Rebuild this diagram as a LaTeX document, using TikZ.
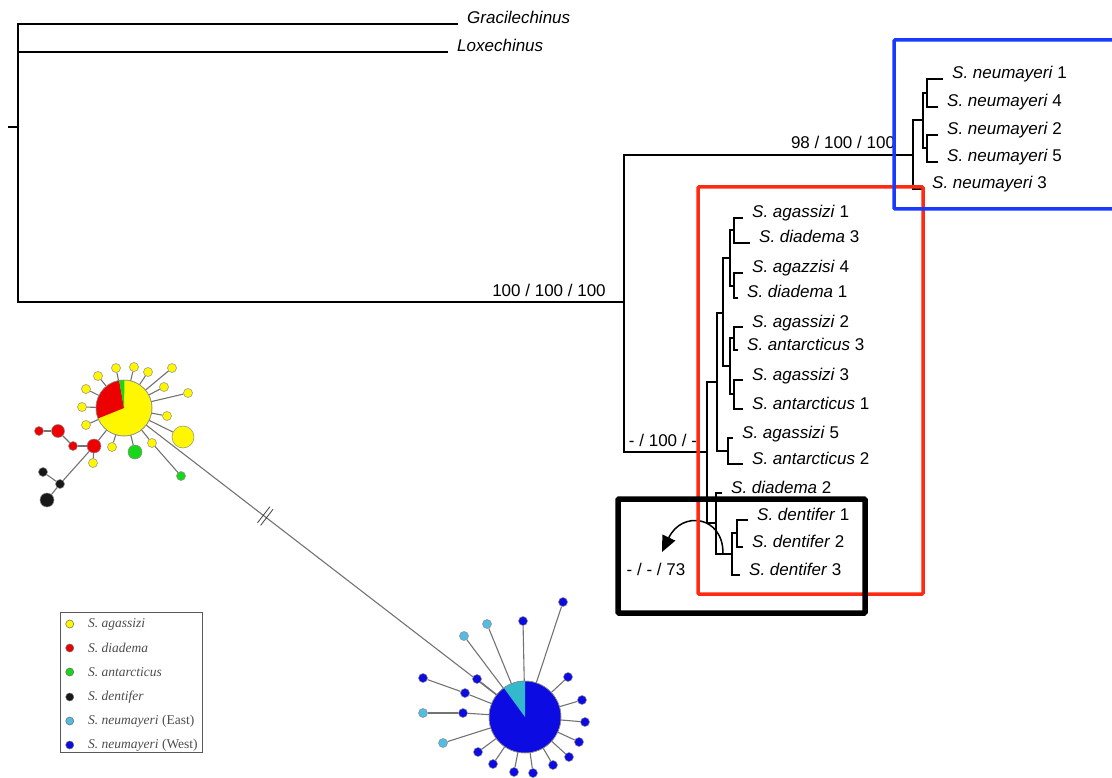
\documentclass[tikz,border=0pt]{standalone}
\usepackage{fontspec}
\setmainfont{Liberation Sans}
\newfontfamily\legendfont{Liberation Serif}
\usetikzlibrary{positioning,arrows.meta}

\definecolor{hapyellow}{RGB}{255,247,0}
\definecolor{hapred}{RGB}{236,0,0}
\definecolor{hapgreen}{RGB}{24,214,24}
\definecolor{hapblack}{RGB}{24,24,24}
\definecolor{hapcyan}{RGB}{84,188,226}
\definecolor{hapblue}{RGB}{12,12,226}
\definecolor{hapteal}{RGB}{52,184,204}
\definecolor{boxred}{RGB}{255,42,18}
\definecolor{boxblue}{RGB}{24,58,255}

\tikzstyle{tree_line} = [line width=1.6pt, black]
\tikzstyle{leaf_name} = [anchor=base west, inner xsep=9pt, inner ysep=1pt]
\tikzstyle{support} = [inner sep=1pt]
\tikzstyle{clade_box} = [line width=3.5pt, rounded corners=1pt]
\tikzstyle{swap_arrow} = [line width=1.5pt, -{Triangle[length=16pt,width=14pt]}]
\tikzstyle{net_edge} = [line width=1.1pt, black!55]
\tikzstyle{hap_hub} = [circle, draw=black!45, line width=0.5pt, inner sep=0pt]
\tikzstyle{hap_small} = [hap_hub, minimum size=9pt]
\tikzstyle{hap_mid} = [hap_hub, minimum size=14pt]
\tikzstyle{legend_text} = [anchor=west, inner sep=0pt, text=black!70, font=\legendfont\fontsize{13.5}{15}\selectfont]
\tikzstyle{legend_dot} = [circle, draw=black!60, line width=0.5pt, inner sep=0pt, minimum size=8pt]

\begin{document}
\begin{tikzpicture}[x=1pt, y=-1pt, font=\fontsize{17}{20}\selectfont]
        \useasboundingbox (0,0) rectangle (1112,778);

        \coordinate (root_stub) at (8,127);
        \coordinate (root) at (18,127);
        \coordinate (ingroup) at (624,302);
        \node (gracil) [leaf_name] at (458,24) {\textit{Gracilechinus}};
        \node (loxech) [leaf_name] at (448,52) {\textit{Loxechinus}};
        \draw [tree_line] (root_stub) -- (root);
        \draw [tree_line] (root) |- (gracil.base west);
        \draw [tree_line] (root) |- (loxech.base west);
        \draw [tree_line] (root) |- (ingroup);

        \coordinate (neu_root) at (913,155);
        \coordinate (red_root) at (707,452);
        \draw [tree_line] (ingroup) |- (neu_root);
        \draw [tree_line] (ingroup) |- (red_root);

        \coordinate (neu_a) at (923,120);
        \coordinate (neu_14) at (927,93);
        \coordinate (neu_25) at (927,148);
        \node (neu1) [leaf_name] at (943,79) {\textit{S. neumayeri} 1};
        \node (neu4) [leaf_name] at (938,107) {\textit{S. neumayeri} 4};
        \node (neu2) [leaf_name] at (938,135) {\textit{S. neumayeri} 2};
        \node (neu5) [leaf_name] at (938,162) {\textit{S. neumayeri} 5};
        \node (neu3) [leaf_name] at (923,189) {\textit{S. neumayeri} 3};
        \draw [tree_line] (neu_root) |- (neu_a);
        \draw [tree_line] (neu_root) |- (neu3.base west);
        \draw [tree_line] (neu_a) |- (neu_14);
        \draw [tree_line] (neu_a) |- (neu_25);
        \draw [tree_line] (neu_14) |- (neu1.base west);
        \draw [tree_line] (neu_14) |- (neu4.base west);
        \draw [tree_line] (neu_25) |- (neu2.base west);
        \draw [tree_line] (neu_25) |- (neu5.base west);

        \coordinate (red_a) at (717,382);
        \coordinate (red_d) at (716,523);
        \coordinate (red_b) at (723,313);
        \coordinate (red_c1) at (730,258);
        \coordinate (red_c2) at (730,366);
        \coordinate (red_11) at (734,230);
        \coordinate (red_12) at (734,286);
        \coordinate (red_21) at (734,338);
        \coordinate (red_22) at (734,394);
        \coordinate (red_ag5) at (728,451);
        \coordinate (den_root) at (732,554);
        \coordinate (den_12) at (737,533);
        \node (aga1) [leaf_name] at (743,218) {\textit{S. agassizi} 1};
        \node (dia3) [leaf_name] at (750,243) {\textit{S. diadema} 3};
        \node (aga4) [leaf_name] at (743,273) {\textit{S. agazzisi} 4};
        \node (dia1) [leaf_name] at (738,298) {\textit{S. diadema} 1};
        \node (aga2) [leaf_name] at (743,327) {\textit{S. agassizi} 2};
        \node (ant3) [leaf_name] at (738,350) {\textit{S. antarcticus} 3};
        \node (aga3) [leaf_name] at (743,380) {\textit{S. agassizi} 3};
        \node (ant1) [leaf_name] at (743,409) {\textit{S. antarcticus} 1};
        \node (aga5) [leaf_name] at (733,438) {\textit{S. agassizi} 5};
        \node (ant2) [leaf_name] at (743,464) {\textit{S. antarcticus} 2};
        \node (dia2) [leaf_name] at (722,493) {\textit{S. diadema} 2};
        \node (den1) [leaf_name] at (748,520) {\textit{S. dentifer} 1};
        \node (den2) [leaf_name] at (743,547) {\textit{S. dentifer} 2};
        \node (den3) [leaf_name] at (740,575) {\textit{S. dentifer} 3};
        \draw [tree_line] (red_root) |- (red_a);
        \draw [tree_line] (red_root) |- (red_d);
        \draw [tree_line] (red_a) |- (red_b);
        \draw [tree_line] (red_a) |- (red_ag5);
        \draw [tree_line] (red_b) |- (red_c1);
        \draw [tree_line] (red_b) |- (red_c2);
        \draw [tree_line] (red_c1) |- (red_11);
        \draw [tree_line] (red_c1) |- (red_12);
        \draw [tree_line] (red_c2) |- (red_21);
        \draw [tree_line] (red_c2) |- (red_22);
        \draw [tree_line] (red_11) |- (aga1.base west);
        \draw [tree_line] (red_11) |- (dia3.base west);
        \draw [tree_line] (red_12) |- (aga4.base west);
        \draw [tree_line] (red_12) |- (dia1.base west);
        \draw [tree_line] (red_21) |- (aga2.base west);
        \draw [tree_line] (red_21) |- (ant3.base west);
        \draw [tree_line] (red_22) |- (aga3.base west);
        \draw [tree_line] (red_22) |- (ant1.base west);
        \draw [tree_line] (red_ag5) |- (aga5.base west);
        \draw [tree_line] (red_ag5) |- (ant2.base west);
        \draw [tree_line] (red_d) |- (dia2.base west);
        \draw [tree_line] (red_d) |- (den_root);
        \draw [tree_line] (den_root) |- (den_12);
        \draw [tree_line] (den_root) |- (den3.base west);
        \draw [tree_line] (den_12) |- (den1.base west);
        \draw [tree_line] (den_12) |- (den2.base west);

        \node (bs_ingroup) [support] at (549,290) {100 / 100 / 100};
        \node (bs_neu) [support] at (843,142) {98 / 100 / 100};
        \node (bs_red) [support] at (663,440) {- / 100 / -};
        \node (bs_den) [support] at (656,569) {- / - / 73};

        \coordinate (arc_start) at (723,553);
        \coordinate (arc_end) at (662,552);
        \draw [swap_arrow] (arc_start) .. controls (723,516) and (682,510) .. (arc_end);

        \draw [clade_box, draw=boxred] (698,187) rectangle (923,594);
        \draw [clade_box, draw=boxblue] (894,40) rectangle (1125,209);
        \draw [clade_box, draw=black, line width=5.5pt] (618,499) rectangle (865,613);

        \node (hub_a) [hap_hub, fill=hapyellow, minimum size=56pt] at (124,408) {};
        \fill [hapred] (hub_a.center) -- ++(100:28pt) arc [start angle=100, end angle=202, radius=28pt] -- cycle;
        \fill [hapgreen] (hub_a.center) -- ++(89:28pt) arc [start angle=89, end angle=100, radius=28pt] -- cycle;
        \draw [black!45, line width=0.5pt] (hub_a.center) circle [radius=28pt];

        \node (hub_b) [hap_hub, fill=hapblue, minimum size=72pt] at (525,717) {};
        \fill [hapteal] (hub_b.center) -- ++(90:36pt) arc [start angle=90, end angle=126, radius=36pt] -- cycle;
        \draw [black!45, line width=0.5pt] (hub_b.center) circle [radius=36pt];

        \node (ya1) [hap_small, fill=hapyellow] at (98,376) {};
        \node (ya2) [hap_small, fill=hapyellow] at (116,368) {};
        \node (ya3) [hap_small, fill=hapyellow] at (134,367) {};
        \node (ya4) [hap_small, fill=hapyellow] at (148,372) {};
        \node (ya5) [hap_small, fill=hapyellow] at (172,368) {};
        \node (ya6) [hap_small, fill=hapyellow] at (164,387) {};
        \node (ya7) [hap_small, fill=hapyellow] at (188,393) {};
        \node (ya8) [hap_small, fill=hapyellow] at (86,389) {};
        \node (ya9) [hap_small, fill=hapyellow] at (82,407) {};
        \node (ya10) [hap_small, fill=hapyellow] at (86,425) {};
        \node (ya11) [hap_small, fill=hapyellow] at (167,416) {};
        \node (ya12) [hap_small, fill=hapyellow] at (112,447) {};
        \node (ya13) [hap_small, fill=hapyellow] at (152,443) {};
        \node (ya14) [hap_small, fill=hapyellow] at (93,463) {};
        \node (ya_big) [hap_hub, fill=hapyellow, minimum size=22pt] at (183,437) {};
        \node (an_mid) [hap_mid, fill=hapgreen] at (135,452) {};
        \node (an_small) [hap_small, fill=hapgreen] at (181,476) {};
        \node (di1) [hap_small, fill=hapred] at (39,431) {};
        \node (di2) [hap_mid, fill=hapred, minimum size=13pt] at (58,431) {};
        \node (di3) [hap_small, fill=hapred] at (73,446) {};
        \node (di4) [hap_mid, fill=hapred] at (94,446) {};
        \node (de1) [hap_small, fill=hapblack] at (43,472) {};
        \node (de2) [hap_small, fill=hapblack] at (60,484) {};
        \node (de3) [hap_mid, fill=hapblack] at (47,500) {};

        \draw [net_edge] (ya1) -- (hub_a);
        \draw [net_edge] (ya2) -- (hub_a);
        \draw [net_edge] (ya3) -- (hub_a);
        \draw [net_edge] (ya4) -- (hub_a);
        \draw [net_edge] (ya5) -- (hub_a);
        \draw [net_edge] (ya6) -- (hub_a);
        \draw [net_edge] (ya7) -- (hub_a);
        \draw [net_edge] (ya8) -- (hub_a);
        \draw [net_edge] (ya9) -- (hub_a);
        \draw [net_edge] (ya10) -- (hub_a);
        \draw [net_edge] (ya11) -- (hub_a);
        \draw [net_edge] (ya12) -- (hub_a);
        \draw [net_edge] (ya13) -- (hub_a);
        \draw [net_edge] (ya13) -- (an_small);
        \draw [net_edge] (ya_big) -- (hub_a);
        \draw [net_edge] (an_mid) -- (hub_a);
        \draw [net_edge] (di1) -- (di2);
        \draw [net_edge] (di2) -- (di3);
        \draw [net_edge] (di3) -- (di4);
        \draw [net_edge] (di4) -- (hub_a);
        \draw [net_edge] (di4) -- (ya14);
        \draw [net_edge] (di4) -- (de2);
        \draw [net_edge] (de2) -- (de1);
        \draw [net_edge] (de2) -- (de3);
        \draw [net_edge] (hub_a) -- node (gap_mark) [sloped, pos=0.34, inner sep=0pt, text=black!85, font=\fontsize{21}{21}\selectfont] {$\parallel$} (hub_b);

        \node (nw1) [hap_small, fill=hapblue] at (563,602) {};
        \node (nw2) [hap_small, fill=hapblue] at (523,621) {};
        \node (ne3) [hap_small, fill=hapcyan] at (487,624) {};
        \node (ne4) [hap_small, fill=hapcyan] at (464,636) {};
        \node (nw5) [hap_small, fill=hapblue] at (423,678) {};
        \node (nw6) [hap_small, fill=hapblue] at (477,679) {};
        \node (nw7) [hap_small, fill=hapblue] at (465,693) {};
        \node (ne8) [hap_small, fill=hapcyan] at (423,713) {};
        \node (nw9) [hap_small, fill=hapblue] at (463,713) {};
        \node (ne10) [hap_small, fill=hapcyan] at (443,743) {};
        \node (nw11) [hap_small, fill=hapblue] at (478,752) {};
        \node (nw12) [hap_small, fill=hapblue] at (493,764) {};
        \node (nw13) [hap_small, fill=hapblue] at (514,772) {};
        \node (nw14) [hap_small, fill=hapblue] at (533,773) {};
        \node (nw15) [hap_small, fill=hapblue] at (553,765) {};
        \node (nw16) [hap_small, fill=hapblue] at (569,757) {};
        \node (nw17) [hap_small, fill=hapblue] at (579,742) {};
        \node (nw18) [hap_small, fill=hapblue] at (585,722) {};
        \node (nw19) [hap_small, fill=hapblue] at (582,700) {};
        \node (nw20) [hap_small, fill=hapblue] at (568,677) {};

        \draw [net_edge] (nw1) -- (hub_b);
        \draw [net_edge] (nw2) -- (hub_b);
        \draw [net_edge] (ne3) -- (hub_b);
        \draw [net_edge] (ne4) -- (hub_b);
        \draw [net_edge] (nw5) -- (nw7);
        \draw [net_edge] (nw6) -- (hub_b);
        \draw [net_edge] (nw7) -- (hub_b);
        \draw [net_edge] (ne8) -- (nw9);
        \draw [net_edge] (nw9) -- (hub_b);
        \draw [net_edge] (ne10) -- (hub_b);
        \draw [net_edge] (nw11) -- (hub_b);
        \draw [net_edge] (nw12) -- (hub_b);
        \draw [net_edge] (nw13) -- (hub_b);
        \draw [net_edge] (nw14) -- (hub_b);
        \draw [net_edge] (nw15) -- (hub_b);
        \draw [net_edge] (nw16) -- (hub_b);
        \draw [net_edge] (nw17) -- (hub_b);
        \draw [net_edge] (nw18) -- (hub_b);
        \draw [net_edge] (nw19) -- (hub_b);
        \draw [net_edge] (nw20) -- (hub_b);

        \draw [black!65, line width=0.8pt] (60,612) rectangle (202,752);
        \node (lg_aga) [legend_text] at (88,624) {\textit{S. agassizi}};
        \node (lg_dia) [legend_text] at (88,648) {\textit{S. diadema}};
        \node (lg_ant) [legend_text] at (88,672) {\textit{S. antarcticus}};
        \node (lg_den) [legend_text] at (88,697) {\textit{S. dentifer}};
        \node (lg_east) [legend_text] at (88,721) {\textit{S. neumayeri} (East)};
        \node (lg_west) [legend_text] at (88,745) {\textit{S. neumayeri} (West)};
        \node [legend_dot, fill=hapyellow, left=14pt of lg_aga] {};
        \node [legend_dot, fill=hapred, left=14pt of lg_dia] {};
        \node [legend_dot, fill=hapgreen, left=14pt of lg_ant] {};
        \node [legend_dot, fill=hapblack, left=14pt of lg_den] {};
        \node [legend_dot, fill=hapcyan, left=14pt of lg_east] {};
        \node [legend_dot, fill=hapblue, left=14pt of lg_west] {};
\end{tikzpicture}
\end{document}
